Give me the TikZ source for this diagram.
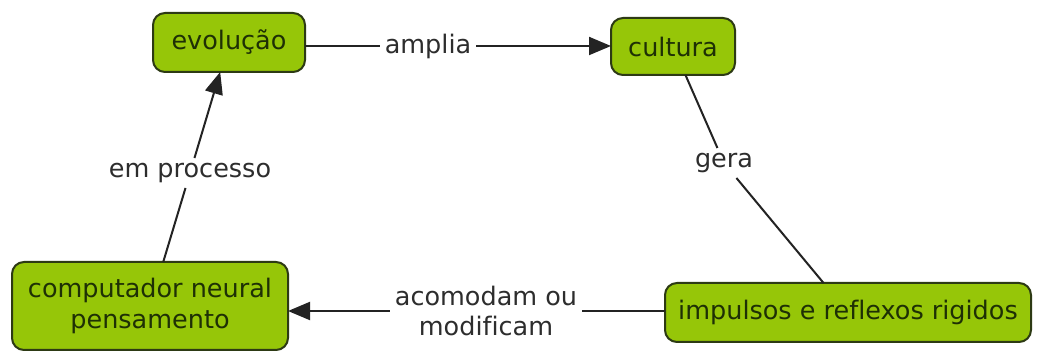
\documentclass[tikz,border=0pt]{standalone}
\usepackage{fontspec}
\setmainfont{DejaVu Sans}[Ligatures=NoCommon]
\usetikzlibrary{arrows.meta}
\definecolor{boxfill}{RGB}{150,198,8}
\definecolor{boxdraw}{RGB}{45,58,20}
\definecolor{boxtext}{RGB}{30,48,5}
\definecolor{labtext}{RGB}{45,45,45}
\definecolor{linecol}{RGB}{35,35,35}
\tikzset{
  concept/.style={draw=boxdraw, fill=boxfill, line width=2pt, rounded corners=12pt,
    text=boxtext, font=\fontsize{25.5}{31}\selectfont, align=center, inner sep=0pt, outer sep=0pt},
  linklabel/.style={text=labtext, font=\fontsize{25.5}{30}\selectfont, align=center, inner sep=5pt},
  conn/.style={draw=linecol, line width=2pt},
  arr/.style={conn, -{Triangle[length=22pt,width=18pt]}}
}
\begin{document}
\begin{tikzpicture}[x=1pt,y=-1pt]
\useasboundingbox (0,0) rectangle (1037,352);
\fill[white] (0,0) rectangle (1037,352);
\node[concept, minimum width=152pt, minimum height=59pt] (evolucao) at (229,42.5) {evolução};
\node[concept, minimum width=124pt, minimum height=57pt] (cultura) at (673,46.5) {cultura};
\node[concept, minimum width=276pt, minimum height=88pt] (computador) at (150,306) {computador neural\\pensamento};
\node[concept, minimum width=366pt, minimum height=59pt] (impulsos) at (848,312.5) {impulsos e reflexos rigidos};

\node[linklabel] (amplia) at (428,46) {amplia};
\node[linklabel] (gera) at (724,163) {gera};
\node[linklabel] (emp) at (190,173) {em processo};
\node[linklabel] (acom) at (486,311) {acomodam ou\\modificam};

\draw[conn] (evolucao.east |- amplia.west) -- (amplia.west);
\draw[arr] (amplia.east) -- (cultura.west |- amplia.east);
\draw[conn] (cultura) -- (gera);
\draw[conn] (gera) -- (impulsos);
\draw[conn] (impulsos.west |- acom.east) -- (acom.east);
\draw[arr] (acom.west) -- (computador.east |- acom.west);
\draw[conn] (computador) -- (emp);
\draw[arr] (emp) -- (evolucao);
\end{tikzpicture}
\end{document}
